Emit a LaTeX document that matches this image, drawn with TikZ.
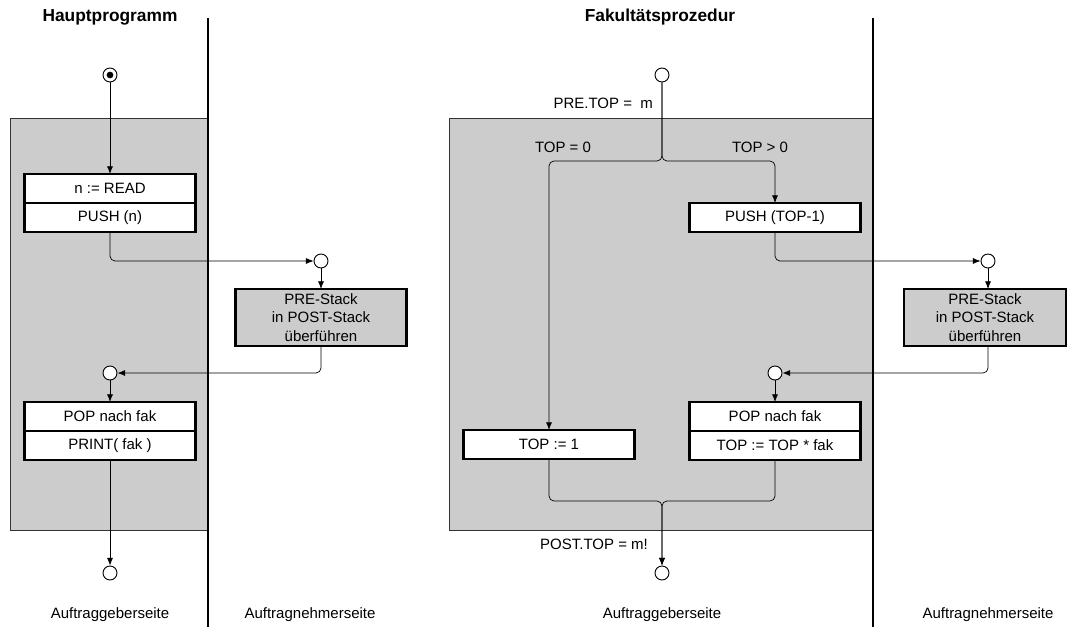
\documentclass[tikz,border=0pt]{standalone}
\usepackage{fontspec}
\setmainfont{Liberation Sans}
\usetikzlibrary{positioning,arrows.meta}
\definecolor{hintergrund}{HTML}{CCCCCC}

\begin{document}
\begin{tikzpicture}[x=0.03cm, y=-0.03cm, font=\fontsize{12.8}{15.5}\selectfont]
			\tikzset{
				kasten/.style={rectangle, draw, line width=2.2pt, fill=white, minimum width=5.13cm, minimum height=0.87cm, inner sep=0pt, outer sep=0pt},
				kreis/.style={circle, draw, line width=0.8pt, fill=white, minimum size=0.42cm, inner sep=0pt},
				pfeil/.style={line width=0.6pt, -{Latex[length=2.3mm, width=1.8mm]}},
				linie/.style={line width=0.6pt, rounded corners=0.15cm},
				trenner/.style={line width=2.2pt},
				titel/.style={font=\fontsize{14.8}{17}\selectfont\bfseries}
			}
			\useasboundingbox (0,0) rectangle (1067,627);
			
			% Hintergrundflaechen
			\filldraw[fill=hintergrund, draw=black!80, line width=0.6pt] (10,118) rectangle (208,530);
			\filldraw[fill=hintergrund, draw=black!80, line width=0.6pt] (449,118) rectangle (873,530);
			
			% Trennlinien
			\draw[trenner] (208,18) -- (208,627);
			\draw[trenner] (873,18) -- (873,627);
			
			% Ueberschriften
			\node[titel] (haupt) at (110,17) {Hauptprogramm};
			\node[titel] (fak) at (660,17) {Fakultätsprozedur};
			\node (geber1) at (110,615) {Auftraggeberseite};
			\node (nehmer1) at (310,615) {Auftragnehmerseite};
			\node (geber2) at (662,615) {Auftraggeberseite};
			\node (nehmer2) at (988,615) {Auftragnehmerseite};
			
			% Hauptprogramm
			\node[kreis] (start1) at (110,75) {};
			\fill (start1.center) circle (0.1cm);
			\node[kasten] (read) at (110,188.5) {n := READ};
			\node[kasten, below=0pt of read] (push1) {PUSH (n)};
			\node[kreis] (k1) at (321,261) {};
			\node[kasten, fill=hintergrund, minimum height=1.71cm, align=center] (stack1) at (321,317.5) {PRE-Stack\\in POST-Stack\\überführen};
			\node[kreis] (k2) at (110,373) {};
			\node[kasten] (pop1) at (110,416.5) {POP nach fak};
			\node[kasten, below=0pt of pop1] (print) {PRINT( fak )};
			\node[kreis] (ende1) at (110,573) {};
			
			\draw[pfeil] (start1) -- (read);
			\draw[pfeil, linie] (push1) |- (k1);
			\draw[pfeil] (k1) -- (stack1);
			\draw[pfeil, linie] (stack1) |- (k2);
			\draw[pfeil] (k2) -- (pop1);
			\draw[pfeil] (print) -- (ende1);
			
			% Fakultaetsprozedur
			\node[kreis] (start2) at (662,75) {};
			\coordinate (gabel) at (662,161);
			\node[anchor=east] (pre) at (657,103) {PRE.TOP =~ m};
			\node (null) at (563,147) {TOP = 0};
			\node (groesser) at (760,147) {TOP > 0};
			\node[kasten] (push2) at (775,217.5) {PUSH (TOP-1)};
			\node[kreis] (k3) at (988,261) {};
			\node[kasten, fill=hintergrund, minimum width=4.86cm, minimum height=1.71cm, align=center] (stack2) at (985,317.5) {PRE-Stack\\in POST-Stack\\überführen};
			\node[kreis] (k4) at (775,373) {};
			\node[kasten] (pop2) at (775,416.5) {POP nach fak};
			\node[kasten, below=0pt of pop2] (mal) {TOP := TOP * fak};
			\node[kasten] (eins) at (549,444.5) {TOP := 1};
			\coordinate (zusammen) at (662,501);
			\node[anchor=east] (post) at (652,544) {POST.TOP = m!};
			\node[kreis] (ende2) at (662,573) {};
			
			\draw[pfeil, linie] (start2) -- (gabel) -| (eins);
			\draw[pfeil, linie] (start2) -- (gabel) -| (push2);
			\draw[pfeil, linie] (push2) |- (k3);
			\draw[pfeil] (k3) -- (k3 |- stack2.north);
			\draw[pfeil, linie] (k3 |- stack2.south) |- (k4);
			\draw[pfeil] (k4) -- (pop2);
			\draw[pfeil, linie] (eins) |- (zusammen) -- (ende2);
			\draw[pfeil, linie] (mal) |- (zusammen) -- (ende2);
		\end{tikzpicture}
\end{document}
